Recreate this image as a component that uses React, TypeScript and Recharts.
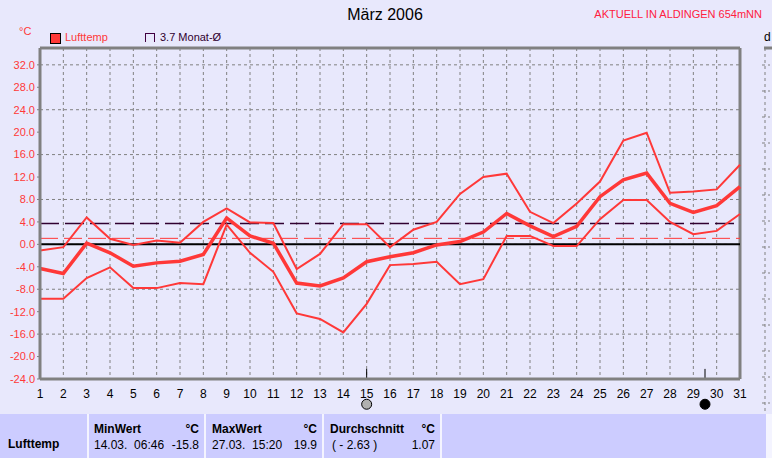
import React from "react"
import {
  LineChart, Line, XAxis, YAxis, CartesianGrid, ReferenceLine, ReferenceDot
} from "recharts"

const days = Array.from({ length: 31 }, (_, i) => i + 1)
const maxTemp = [
  -1.1, -0.5, 4.8, 1.0, -0.1, 0.7, 0.3, 4.0, 6.4, 3.9, 3.8, -4.4, -1.7, 3.6, 3.6, -0.5,
  2.6, 4.0, 9.0, 12.0, 12.6, 5.8, 3.8, 7.3, 11.2, 18.5, 19.9, 9.2, 9.4, 9.8, 14.2,
]
const meanTemp = [
  -4.3, -5.2, 0.2, -1.5, -3.9, -3.3, -3.0, -1.8, 4.7, 1.5, 0.2, -6.9, -7.4, -6.0, -3.1, -2.2,
  -1.5, -0.1, 0.5, 2.2, 5.5, 3.3, 1.4, 3.2, 8.5, 11.5, 12.7, 7.3, 5.7, 6.9, 10.3,
]
const minTemp = [
  -9.7, -9.7, -6.0, -4.1, -7.8, -7.8, -6.9, -7.1, 3.5, -1.5, -4.9, -12.3, -13.3, -15.7, -10.6, -3.7,
  -3.5, -3.1, -7.1, -6.2, 1.5, 1.5, -0.3, -0.3, 4.5, 7.9, 7.9, 4.0, 1.8, 2.4, 5.4,
]
const yTicks = [-24, -20, -16, -12, -8, -4, 0, 4, 8, 12, 16, 20, 24, 28, 32]
const monthAvg = 3.7
const currentAvg = 1.07

const data = days.map((d, i) => ({ day: d, max: maxTemp[i], mean: meanTemp[i], min: minTemp[i] }))

const RED = "#ff3838"
const GRID = "#808080"
const BG = "#e8e8fc"
const font = "'Liberation Sans', Arial, sans-serif"

const cell: React.CSSProperties = {
  position: "absolute", top: 0, height: 44, background: "#ccccff", boxSizing: "border-box",
}

export default function App() {
  return (
    <div style={{ position: "absolute", left: 0, top: 0, width: 772, height: 458, background: BG, overflow: "hidden", fontFamily: font }}>
      <div style={{ position: "absolute", left: 0, width: 772, top: 6, textAlign: "center", fontSize: 16, color: "#000" }}>
        <span style={{ marginLeft: -2 }}>März 2006</span>
      </div>
      <div style={{ position: "absolute", right: 10, top: 8, fontSize: 11, color: "#ff2040" }}>AKTUELL IN ALDINGEN 654mNN</div>
      <div style={{ position: "absolute", left: 19, top: 25, fontSize: 11, color: RED }}>°C</div>
      <div style={{ position: "absolute", left: 50, top: 33, width: 9, height: 9, background: RED, border: "1px solid #000" }} />
      <div style={{ position: "absolute", left: 65, top: 31, fontSize: 11, color: RED }}>Lufttemp</div>
      <div style={{ position: "absolute", left: 145, top: 33, width: 8, height: 8, borderLeft: "1px solid #400040", borderTop: "1px solid #400040", borderRight: "1px solid #400040" }} />
      <div style={{ position: "absolute", left: 160, top: 31, fontSize: 11, color: "#300030" }}>3.7 Monat-Ø</div>
      <div style={{ position: "absolute", left: 764, top: 30, fontSize: 12, color: "#000" }}>d</div>
      <svg style={{ position: "absolute", left: 760, top: 40 }} width={12} height={380}>
        <line x1={4} y1={8} x2={12} y2={8} stroke={GRID} strokeWidth={3} />
        <line x1={5} y1={8} x2={5} y2={380} stroke={GRID} strokeDasharray="3 3" />
        {yTicks.map((t, i) => (
          <line key={t} x1={2} x2={10} y1={25 + i * 26} y2={25 + i * 26} stroke={GRID} strokeDasharray="3 3" />
        ))}
      </svg>

      <div style={{ position: "absolute", left: 0, top: 0 }}>
        <LineChart width={772} height={458} data={data} margin={{ top: 48, right: 32, bottom: 59, left: 0 }}>
          <CartesianGrid stroke={GRID} strokeDasharray="3 3" />
          <XAxis
            dataKey="day" type="number" domain={[1, 31]} ticks={days} interval={0}
            height={20} axisLine={{ stroke: GRID, strokeWidth: 3 }} tickLine={false}
            tick={{ fill: "#000", fontSize: 12, fontFamily: font }} tickMargin={4}
          />
          <YAxis
            type="number" domain={[-24, 35]} ticks={yTicks} width={40} allowDataOverflow
            axisLine={{ stroke: GRID, strokeWidth: 3 }} tickLine={{ stroke: GRID }} tickSize={3}
            tick={{ fill: RED, fontSize: 11, fontFamily: font }}
            tickFormatter={(v: number) => v.toFixed(1)}
          />
          <ReferenceLine y={35} stroke={GRID} strokeWidth={3} />
          <ReferenceLine x={31} stroke={GRID} strokeWidth={3} />
          <ReferenceLine y={0} stroke="#000" strokeWidth={2} />
          <ReferenceLine y={currentAvg} stroke={RED} strokeWidth={1} strokeDasharray="18 6" />
          <ReferenceLine y={monthAvg} stroke="#300030" strokeWidth={1.5} strokeDasharray="19 6" />
          <Line dataKey="max" stroke={RED} strokeWidth={2} dot={false} isAnimationActive={false} />
          <Line dataKey="min" stroke={RED} strokeWidth={2} dot={false} isAnimationActive={false} />
          <Line dataKey="mean" stroke={RED} strokeWidth={3.5} dot={false} isAnimationActive={false} />
          <ReferenceLine segment={[{ x: 15, y: -24 }, { x: 15, y: -22.2 }]} stroke="#000" strokeWidth={1} />
          <ReferenceLine segment={[{ x: 29.5, y: -24 }, { x: 29.5, y: -22.2 }]} stroke="#000" strokeWidth={1} />
          <ReferenceDot x={15} y={-28.5} r={5} fill="#b0b0b0" stroke="#000" ifOverflow="visible" />
          <ReferenceDot x={29.5} y={-28.5} r={5} fill="#000" stroke="#000" ifOverflow="visible" />
        </LineChart>
      </div>

      <div style={{ position: "absolute", left: 0, top: 414, width: 772, height: 44, background: "#f4f4ff" }}>
        <div style={{ ...cell, left: 0, width: 87 }}>
          <div style={{ position: "absolute", left: 8, top: 23, fontSize: 12, fontWeight: "bold" }}>Lufttemp</div>
        </div>
        <div style={{ ...cell, left: 89, width: 115 }}>
          <div style={{ position: "absolute", left: 5, top: 8, fontSize: 12, fontWeight: "bold" }}>MinWert</div>
          <div style={{ position: "absolute", right: 5, top: 8, fontSize: 12, fontWeight: "bold" }}>°C</div>
          <div style={{ position: "absolute", left: 5, top: 24, fontSize: 12 }}>14.03.&nbsp; 06:46</div>
          <div style={{ position: "absolute", right: 5, top: 24, fontSize: 12 }}>-15.8</div>
        </div>
        <div style={{ ...cell, left: 206, width: 116 }}>
          <div style={{ position: "absolute", left: 6, top: 8, fontSize: 12, fontWeight: "bold" }}>MaxWert</div>
          <div style={{ position: "absolute", right: 5, top: 8, fontSize: 12, fontWeight: "bold" }}>°C</div>
          <div style={{ position: "absolute", left: 6, top: 24, fontSize: 12 }}>27.03.&nbsp; 15:20</div>
          <div style={{ position: "absolute", right: 5, top: 24, fontSize: 12 }}>19.9</div>
        </div>
        <div style={{ ...cell, left: 324, width: 116 }}>
          <div style={{ position: "absolute", left: 6, top: 8, fontSize: 12, fontWeight: "bold" }}>Durchschnitt</div>
          <div style={{ position: "absolute", right: 5, top: 8, fontSize: 12, fontWeight: "bold" }}>°C</div>
          <div style={{ position: "absolute", left: 8, top: 24, fontSize: 12 }}>( - 2.63 )</div>
          <div style={{ position: "absolute", right: 5, top: 24, fontSize: 12 }}>1.07</div>
        </div>
        <div style={{ ...cell, left: 442, width: 324 }} />
      </div>
    </div>
  )
}
